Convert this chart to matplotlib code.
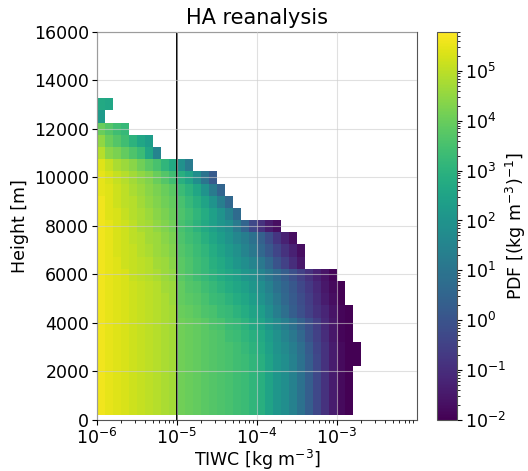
import numpy as np
import matplotlib
matplotlib.use("Agg")
import matplotlib.pyplot as plt
from matplotlib.colors import LogNorm

# height bins [m] (bottom edge of lowest bin to top edge of highest bin)
height_edges = np.linspace(206, 13265, 27)

# TIWC bins: 10 per decade starting at 1e-6
tiwc_edges = 10 ** np.round(np.arange(-6.0, -2.65, 0.1), 2)

# log10 of PDF per height bin (lowest bin first), left to right from 1e-6
pdf_log10 = [
    [5.6, 5.5, 5.4, 5.3, 5.2, 5.1, 5.0, 4.9, 4.8, 4.7, 4.1, 4.0, 3.9, 3.8, 3.7, 3.6, 3.5, 3.4, 3.3, 3.1, 2.9, 2.5, 2.1, 1.8, 1.4, 0.9, 0.3, -0.3, -0.9, -1.4, -1.8, -2.1],
    [5.6, 5.5, 5.4, 5.3, 5.2, 5.1, 5.0, 4.9, 4.8, 4.7, 4.1, 4.0, 3.9, 3.8, 3.7, 3.6, 3.5, 3.4, 3.3, 3.1, 2.9, 2.5, 2.1, 1.8, 1.4, 0.9, 0.3, -0.3, -0.9, -1.4, -1.8, -2.1],
    [5.6, 5.5, 5.4, 5.3, 5.2, 5.1, 5.0, 4.9, 4.8, 4.7, 4.1, 4.0, 3.9, 3.8, 3.7, 3.6, 3.5, 3.4, 3.3, 3.1, 2.9, 2.5, 2.1, 1.8, 1.4, 0.9, 0.3, -0.3, -0.9, -1.4, -1.8, -2.1],
    [5.6, 5.5, 5.4, 5.3, 5.2, 5.1, 5.0, 4.9, 4.8, 4.7, 4.1, 4.0, 3.9, 3.8, 3.7, 3.6, 3.5, 3.4, 3.3, 3.1, 2.9, 2.5, 2.1, 1.8, 1.4, 0.9, 0.3, -0.3, -0.9, -1.4, -1.8, -2.1],
    [5.6, 5.5, 5.4, 5.3, 5.2, 5.1, 5.0, 4.9, 4.8, 4.7, 4.1, 4.0, 3.9, 3.8, 3.7, 3.6, 3.5, 3.4, 3.3, 3.1, 2.9, 2.5, 2.1, 1.8, 1.4, 0.9, 0.3, -0.3, -0.9, -1.4, -1.8, -2.1, -2.3],
    [5.6, 5.5, 5.4, 5.3, 5.2, 5.1, 5.0, 4.9, 4.8, 4.7, 4.1, 4.0, 3.9, 3.8, 3.7, 3.6, 3.5, 3.4, 3.2, 3.0, 2.8, 2.4, 2.0, 1.7, 1.3, 0.8, 0.2, -0.4, -0.9, -1.4, -1.8, -2.1, -2.3],
    [5.6, 5.5, 5.4, 5.3, 5.2, 5.1, 5.0, 4.9, 4.8, 4.7, 4.1, 4.0, 3.9, 3.8, 3.7, 3.6, 3.4, 3.3, 3.1, 2.9, 2.7, 2.3, 1.9, 1.5, 1.1, 0.6, 0.0, -0.5, -1.0, -1.5, -1.9, -2.1],
    [5.6, 5.5, 5.4, 5.3, 5.2, 5.1, 5.0, 4.9, 4.8, 4.7, 4.1, 4.0, 3.9, 3.8, 3.6, 3.5, 3.3, 3.2, 3.0, 2.7, 2.5, 2.1, 1.7, 1.3, 0.9, 0.4, -0.1, -0.6, -1.1, -1.5, -1.9, -2.1],
    [5.6, 5.5, 5.4, 5.3, 5.2, 5.1, 5.0, 4.9, 4.8, 4.7, 4.0, 3.9, 3.8, 3.6, 3.5, 3.3, 3.2, 3.0, 2.8, 2.5, 2.3, 1.8, 1.3, 0.8, 0.3, -0.1, -0.5, -0.9, -1.2, -1.6, -1.9, -2.1],
    [5.6, 5.5, 5.4, 5.3, 5.2, 5.1, 5.0, 4.9, 4.8, 4.6, 3.9, 3.8, 3.7, 3.5, 3.3, 3.2, 3.0, 2.8, 2.6, 2.3, 2.0, 1.6, 1.1, 0.6, 0.2, -0.2, -0.6, -1.0, -1.4, -1.7, -2.0],
    [5.6, 5.5, 5.4, 5.3, 5.2, 5.1, 5.0, 4.9, 4.7, 4.6, 3.9, 3.7, 3.6, 3.4, 3.2, 3.0, 2.8, 2.6, 2.4, 2.1, 1.8, 1.4, 0.9, 0.5, 0.1, -0.3, -0.7, -1.1, -1.5, -1.8, -2.0],
    [5.6, 5.5, 5.4, 5.3, 5.1, 5.0, 4.9, 4.8, 4.6, 4.5, 3.8, 3.6, 3.4, 3.2, 3.0, 2.8, 2.6, 2.4, 2.1, 1.9, 1.5, 1.1, 0.7, 0.3, -0.1, -0.5, -0.9, -1.3, -1.6, -1.9],
    [5.6, 5.5, 5.4, 5.2, 5.1, 5.0, 4.9, 4.7, 4.6, 4.4, 3.8, 3.6, 3.4, 3.2, 2.9, 2.7, 2.4, 2.1, 1.8, 1.5, 1.1, 0.6, 0.0, -0.5, -1.0, -1.5],
    [5.6, 5.5, 5.3, 5.2, 5.1, 4.9, 4.8, 4.6, 4.5, 4.3, 3.7, 3.5, 3.3, 3.1, 2.8, 2.5, 2.2, 1.9, 1.5, 1.1, 0.6, 0.1, -0.4, -0.9, -1.3, -1.7],
    [5.6, 5.5, 5.3, 5.2, 5.0, 4.9, 4.7, 4.6, 4.4, 4.2, 3.6, 3.4, 3.2, 2.9, 2.6, 2.3, 2.0, 1.6, 1.3, 0.9, 0.4, -0.2, -0.8, -1.3, -1.7],
    [5.6, 5.5, 5.3, 5.2, 5.0, 4.8, 4.7, 4.5, 4.3, 4.1, 3.5, 3.3, 3.0, 2.7, 2.4, 2.1, 1.8, 1.2, 0.5, -0.3, -0.9, -1.4, -1.7],
    [5.6, 5.4, 5.3, 5.1, 4.9, 4.8, 4.6, 4.4, 4.2, 4.0, 3.6, 3.4, 3.1, 2.8, 2.4, 2.0, 1.4, 0.7],
    [5.6, 5.4, 5.2, 5.0, 4.9, 4.7, 4.5, 4.3, 4.1, 3.9, 3.5, 3.2, 2.9, 2.5, 2.0, 1.3, 0.6],
    [5.5, 5.4, 5.2, 5.0, 4.8, 4.6, 4.4, 4.2, 4.0, 3.8, 3.3, 3.0, 2.6, 2.0, 1.2, 0.5],
    [5.5, 5.3, 5.1, 4.9, 4.7, 4.5, 4.3, 4.0, 3.7, 3.4, 2.9, 2.5, 1.8, 1.0, 0.2],
    [5.4, 5.1, 4.8, 4.6, 4.4, 4.1, 3.8, 3.5, 3.1, 2.7, 1.9, 1.2],
    [4.9, 4.4, 4.2, 3.9, 3.6, 3.3, 2.6, 1.5],
    [4.5, 4.0, 3.7, 3.4, 3.0, 2.6, 2.3],
    [4.0, 3.7, 3.4, 3.2],
    [2.2],
    [2.7, 2.6],
]

threshold = 1e-5

ncol = len(tiwc_edges) - 1
Z = np.full((len(pdf_log10), ncol), np.nan)
for i, row in enumerate(pdf_log10):
    Z[i, :len(row)] = 10.0 ** np.array(row)
Z = np.ma.masked_invalid(Z)

fs = 12.5
fig = plt.figure(figsize=(5.28, 4.71), dpi=100)
ax = fig.add_axes([0.1837, 0.1083, 0.606, 0.8238])
cax = fig.add_axes([0.8277, 0.1083, 0.0379, 0.8238])

mesh = ax.pcolormesh(tiwc_edges, height_edges, Z, cmap="viridis",
                     norm=LogNorm(vmin=1e-2, vmax=6e5), shading="flat")
ax.axvline(threshold, color="black", lw=1.4)

ax.set_xscale("log")
ax.set_xlim(1e-6, 1e-2)
ax.set_ylim(0, 16000)
ax.set_yticks(np.arange(0, 16001, 2000))
ax.set_xticks([1e-6, 1e-5, 1e-4, 1e-3])
ax.grid(True, color="#cccccc", alpha=0.6, lw=0.8)
ax.set_axisbelow(False)
ax.tick_params(labelsize=fs, pad=2)
for s in ax.spines.values():
    s.set_color("#555555")

ax.set_xlabel("TIWC [kg m$^{-3}$]", fontsize=fs, labelpad=0)
ax.set_ylabel("Height [m]", fontsize=fs)
ax.set_title("HA reanalysis", fontsize=15)

cb = fig.colorbar(mesh, cax=cax)
cb.set_label("PDF [(kg m$^{-3}$)$^{-1}$]", fontsize=12.5, labelpad=-1)
cb.ax.tick_params(labelsize=fs, pad=2)
cb.outline.set_edgecolor("#555555")

fig.savefig("out.png", dpi=100)
